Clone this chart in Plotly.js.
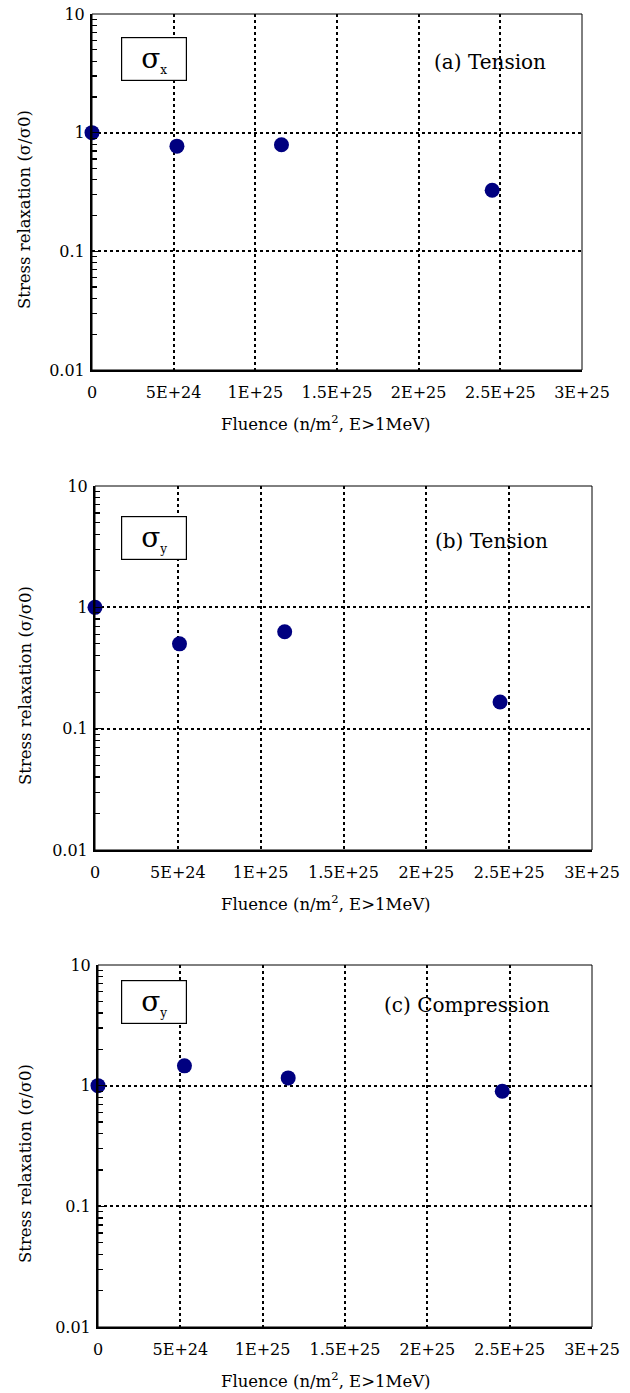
<!DOCTYPE html>
<html>
<head>
<meta charset="utf-8">
<script src="https://cdn.plot.ly/plotly-3.0.1.min.js"></script>
<style>html,body{margin:0;padding:0;background:#fff;}#chart{width:630px;height:1393px;}</style>
</head>
<body>
<div id="chart"></div>
<script>
// ---- data ----
const fluenceA = [0, 5.2e24, 1.16e25, 2.45e25];
const relaxA   = [1.0, 0.77, 0.79, 0.327];
const fluenceB = [0, 5.1e24, 1.145e25, 2.445e25];
const relaxB   = [1.0, 0.50, 0.63, 0.166];
const fluenceC = [0, 5.25e24, 1.155e25, 2.455e25];
const relaxC   = [1.0, 1.46, 1.16, 0.90];

const xTickVals = [0, 5e24, 1e25, 1.5e25, 2e25, 2.5e25, 3e25];
const xTickText = ["0", "5E+24", "1E+25", "1.5E+25", "2E+25", "2.5E+25", "3E+25"];
const yTickVals = [0.01, 0.1, 1, 10];
const yTickText = ["0.01", "0.1", "1", "10"];

const panelLabels = ["(a) Tension", "(b) Tension", "(c) Compression"];
const stressComp = ["x", "y", "y"];
const xTitle = "Fluence (n/m<sup>2</sup>, E>1MeV)";
const yTitle = "Stress relaxation (σ/σ0)";

// ---- layout helpers ----
const W = 630, H = 1393;
const px = x => x / W;
const py = y => 1 - y / H;
const FONT = "'DejaVu Serif', serif";

// plot-area pixel boxes [left, right, top, bottom]
const boxes = [[92, 582, 14, 370], [95, 592, 486, 850], [98, 592, 965, 1327]];
const sets = [[fluenceA, relaxA], [fluenceB, relaxB], [fluenceC, relaxC]];

const traces = [];
const layout = {
  width: W, height: H,
  margin: {l: 0, r: 0, t: 0, b: 0},
  paper_bgcolor: "#fff", plot_bgcolor: "#fff",
  showlegend: false,
  font: {family: FONT, color: "#000", size: 16},
  annotations: [], shapes: []
};

boxes.forEach((b, i) => {
  const n = i === 0 ? "" : String(i + 1);
  traces.push({
    x: sets[i][0], y: sets[i][1], type: "scatter", mode: "markers",
    xaxis: "x" + n, yaxis: "y" + n, cliponaxis: false,
    marker: {color: "#000080", size: 15, line: {width: 0}},
    hoverinfo: "skip"
  });
  layout["xaxis" + n] = {
    domain: [px(b[0]), px(b[1])], anchor: "y" + n,
    range: [0, 3e25], tickvals: xTickVals, ticktext: xTickText,
    ticks: "", showline: true, linecolor: "#000", linewidth: 2,
    showgrid: true, gridcolor: "#000", gridwidth: 2, griddash: "3px,3px",
    zeroline: false, tickfont: {family: FONT, size: 16, color: "#000"}, ticklabelstandoff: 7,
    fixedrange: true
  };
  layout["yaxis" + n] = {
    domain: [py(b[3]), py(b[2])], anchor: "x" + n,
    type: "log", range: [-2, 1], tickvals: yTickVals, ticktext: yTickText,
    ticks: "inside", ticklen: 8, tickwidth: 1.5, tickcolor: "#000",
    minor: {ticks: "inside", ticklen: 5, tickwidth: 1.2, tickcolor: "#000", dtick: "D1", showgrid: false},
    showline: true, linecolor: "#000", linewidth: 2,
    showgrid: true, gridcolor: "#000", gridwidth: 2, griddash: "3px,3px",
    zeroline: false, tickfont: {family: FONT, size: 16, color: "#000"}, ticklabelstandoff: 2,
    fixedrange: true
  };
  // thin frame top/right
  layout.shapes.push({type: "rect", xref: "x" + n + " domain", yref: "y" + n + " domain",
    x0: 0, x1: 1, y0: 0, y1: 1, line: {color: "#000", width: 1}, layer: "above"});
  // axis titles
  layout.annotations.push({xref: "paper", yref: "paper", x: px(326), y: py(b[3] + 53),
    text: xTitle, showarrow: false, font: {family: FONT, size: 16.5, color: "#000"}, xanchor: "center", yanchor: "middle"});
  layout.annotations.push({xref: "paper", yref: "paper", x: px(25), y: py((b[2] + b[3]) / 2 + 18),
    text: yTitle, textangle: -90, showarrow: false, font: {family: FONT, size: 16.5, color: "#000"}, xanchor: "center", yanchor: "middle"});
  // panel label
  const labX = [490, 491, 467][i];
  const labY = [b[2] + 48, b[2] + 55, b[2] + 40][i];
  layout.annotations.push({xref: "paper", yref: "paper", x: px(labX), y: py(labY),
    text: panelLabels[i], showarrow: false, font: {family: FONT, size: 20, color: "#000"}, xanchor: "center", yanchor: "middle"});
  // sigma box
  const boxTop = [36, 515, 979][i];
  layout.annotations.push({xref: "paper", yref: "paper", x: px(154), y: py(boxTop + 23),
    text: "σ<sub><span style='font-size:12px'>" + stressComp[i] + "</span></sub>",
    showarrow: false, font: {family: FONT, size: 28, color: "#000"}, xanchor: "center", yanchor: "middle",
    width: 64, height: 42, bordercolor: "#000", borderwidth: 1.2, borderpad: 0, bgcolor: "#fff"});
});

Plotly.newPlot("chart", traces, layout, {staticPlot: true, displayModeBar: false});
</script>
</body>
</html>
